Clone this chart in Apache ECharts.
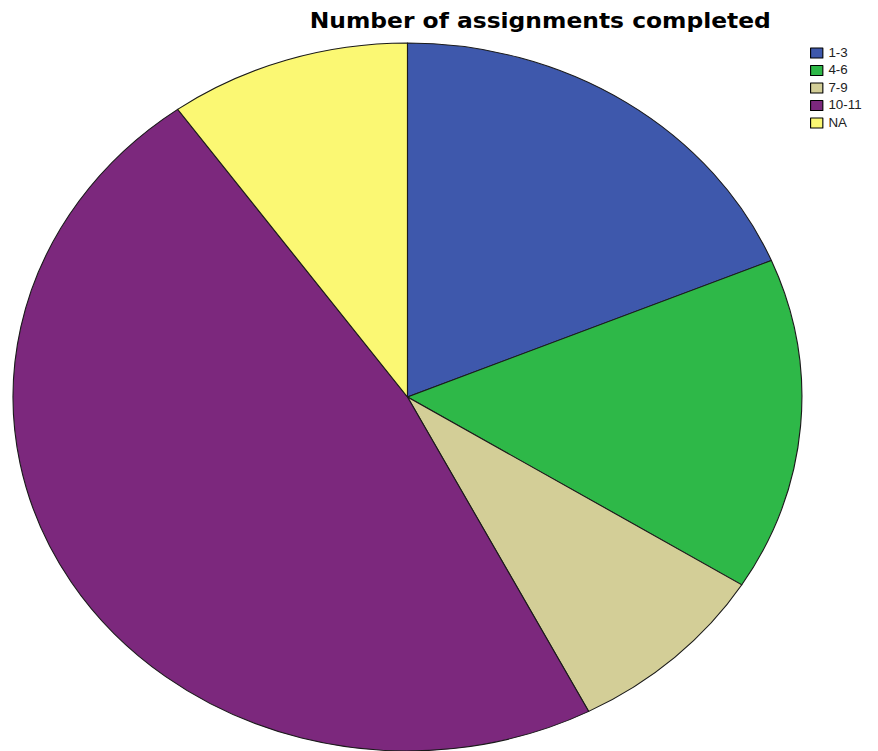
<!DOCTYPE html>
<html>
<head>
<meta charset="utf-8">
<script src="https://cdn.jsdelivr.net/npm/echarts@6/dist/echarts.min.js"></script>
<style>
  html, body { margin: 0; padding: 0; background: #ffffff; overflow: hidden; }
  #wrap { width: 878px; height: 751px; overflow: hidden; position: relative; }
  /* The reference pie is an ellipse (the picture is stretched horizontally) */
  #chart { width: 788px; height: 751px; transform: scaleX(1.11421); transform-origin: 0 0; }
</style>
</head>
<body>
<div id="wrap"><div id="chart"></div></div>
<script>
const titleText = 'Number of assignments completed';
const categories = ['1-3', '4-6', '7-9', '10-11', 'NA'];
const values = [18.7, 15.2, 8.5, 47.7, 9.9];
const colors = ['#3E58AC', '#2EB848', '#D3CE97', '#7C287D', '#FBF873'];

const chart = echarts.init(document.getElementById('chart'), null, { renderer: 'svg' });
chart.setOption({
  animation: false,
  backgroundColor: '#ffffff',
  title: {
    text: titleText,
    left: 278,
    top: 10,
    padding: 0,
    textStyle: { fontFamily: 'DejaVu Sans', fontWeight: 'bold', fontSize: 21, color: '#000000' }
  },
  legend: {
    orient: 'vertical',
    left: 727,
    top: 47,
    padding: 0,
    icon: 'rect',
    itemWidth: 11,
    itemHeight: 10,
    itemGap: 5.5,
    selectedMode: false,
    data: categories,
    textStyle: { fontFamily: 'Liberation Sans, Arial, sans-serif', fontSize: 12, color: '#222222' },
    itemStyle: { borderColor: '#000000', borderWidth: 1 }
  },
  series: [{
    type: 'pie',
    center: [365.7, 397],
    radius: 354,
    startAngle: 90,
    clockwise: true,
    silent: true,
    label: { show: false },
    labelLine: { show: false },
    emphasis: { disabled: true },
    itemStyle: { borderColor: '#1a1a1a', borderWidth: 1 },
    data: categories.map((c, i) => ({ name: c, value: values[i], itemStyle: { color: colors[i] } }))
  }]
});
</script>
</body>
</html>
